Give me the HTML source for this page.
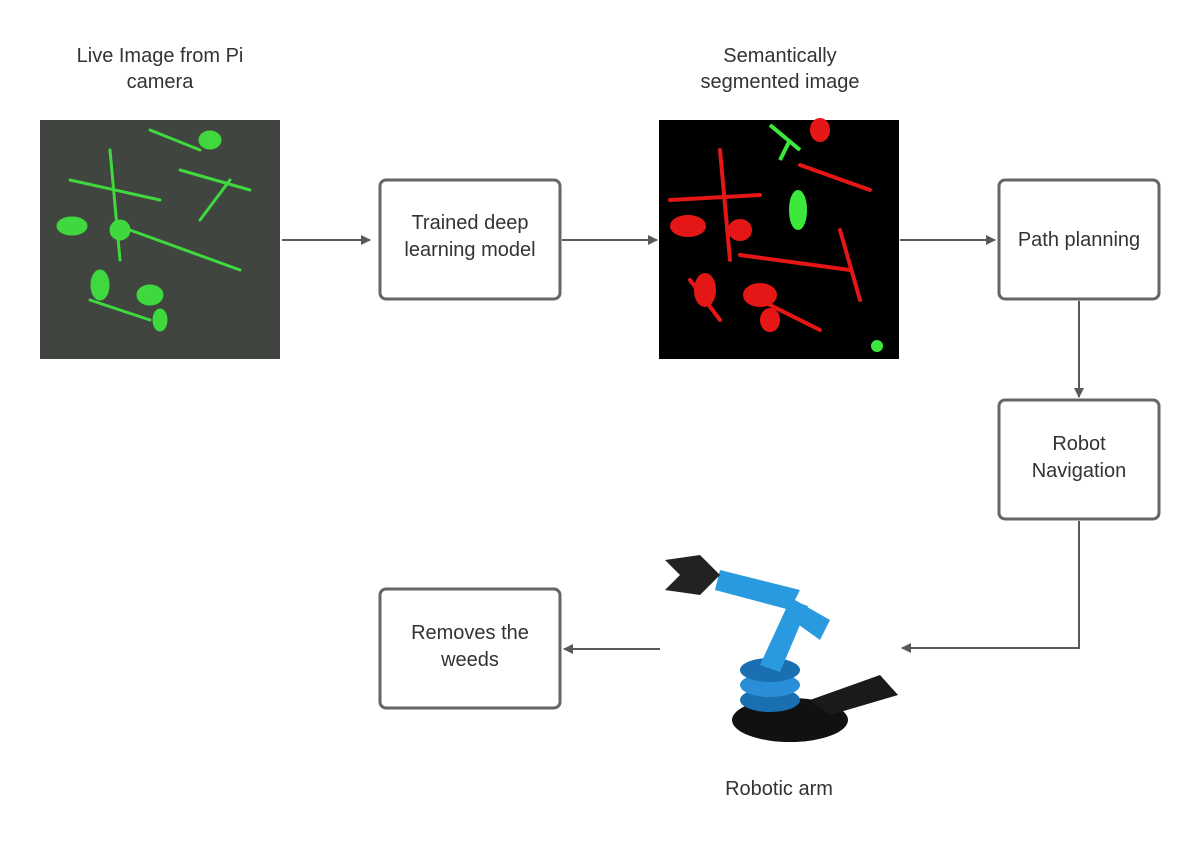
<!DOCTYPE html>
<html><head><meta charset="utf-8"><style>
html,body{margin:0;padding:0;background:#fff;width:1199px;height:860px;overflow:hidden}
svg text{font-family:"Liberation Sans",sans-serif;font-size:20px;fill:#333;text-anchor:middle}
</style></head><body>
<svg width="1199" height="860" viewBox="0 0 1199 860">
<defs><marker id="ah" markerWidth="10" markerHeight="10" refX="9" refY="5" orient="auto" markerUnits="userSpaceOnUse"><path d="M0,0 L10,5 L0,10 z" fill="#595959"/></marker></defs>

<g><text x="160" y="62">Live Image from Pi</text><text x="160" y="88">camera</text></g>
<g>
<rect x="40" y="120" width="240" height="239" fill="#3a3f3a"/>
<rect x="40" y="120" width="240" height="239" fill="#4a4f48" opacity="0.4"/>
<g fill="#3fd83f" stroke="#3fd83f" stroke-width="3" stroke-linecap="round">
<path d="M70,180 L160,200 M110,150 L120,260 M150,130 L200,150 M180,170 L250,190 M130,230 L240,270 M90,300 L150,320 M200,220 L230,180" fill="none"/>
<ellipse cx="72" cy="226" rx="14" ry="8"/><ellipse cx="100" cy="285" rx="8" ry="14"/><ellipse cx="150" cy="295" rx="12" ry="9"/>
<ellipse cx="160" cy="320" rx="6" ry="10"/><ellipse cx="210" cy="140" rx="10" ry="8"/><ellipse cx="120" cy="230" rx="9" ry="9"/>
</g></g>

<line x1="282" y1="240" x2="370" y2="240" stroke="#595959" stroke-width="2" marker-end="url(#ah)"/>
<g><rect x="380" y="180" width="180" height="119" rx="6" fill="#fff" stroke="#666" stroke-width="3"/><text x="470" y="229">Trained deep</text><text x="470" y="256">learning model</text></g>
<line x1="562" y1="240" x2="657" y2="240" stroke="#595959" stroke-width="2" marker-end="url(#ah)"/>

<g><text x="780" y="62">Semantically</text><text x="780" y="88">segmented image</text></g>
<g>
<rect x="659" y="120" width="240" height="239" fill="#000"/>
<g fill="#e41616" stroke="#e41616" stroke-width="4" stroke-linecap="round">
<path d="M670,200 L760,195 M720,150 L730,260 M800,165 L870,190 M740,255 L850,270 M690,280 L720,320 M760,300 L820,330 M840,230 L860,300" fill="none"/>
<ellipse cx="688" cy="226" rx="16" ry="9"/><ellipse cx="705" cy="290" rx="9" ry="15"/><ellipse cx="760" cy="295" rx="15" ry="10"/>
<ellipse cx="770" cy="320" rx="8" ry="10"/><ellipse cx="820" cy="130" rx="8" ry="10"/><ellipse cx="740" cy="230" rx="10" ry="9"/>
</g>
<g fill="#3be83b" stroke="#3be83b" stroke-width="4"><path d="M770,125 L800,150 M790,140 L780,160" fill="none"/><ellipse cx="798" cy="210" rx="7" ry="18"/><circle cx="877" cy="346" r="4"/></g>
</g>

<line x1="900" y1="240" x2="995" y2="240" stroke="#595959" stroke-width="2" marker-end="url(#ah)"/>
<g><rect x="999" y="180" width="160" height="119" rx="6" fill="#fff" stroke="#666" stroke-width="3"/><text x="1079" y="246">Path planning</text></g>
<line x1="1079" y1="301" x2="1079" y2="397" stroke="#595959" stroke-width="2" marker-end="url(#ah)"/>
<g><rect x="999" y="400" width="160" height="119" rx="6" fill="#fff" stroke="#666" stroke-width="3"/><text x="1079" y="450">Robot</text><text x="1079" y="477">Navigation</text></g>
<polyline points="1079,521 1079,648 902,648" fill="none" stroke="#595959" stroke-width="2" marker-end="url(#ah)"/>

<g>
<ellipse cx="790" cy="720" rx="58" ry="22" fill="#111"/>
<ellipse cx="770" cy="700" rx="30" ry="12" fill="#1a6fb0"/><ellipse cx="770" cy="685" rx="30" ry="12" fill="#2a8fd8"/><ellipse cx="770" cy="670" rx="30" ry="12" fill="#1a6fb0"/>
<polygon points="810,700 880,675 898,695 830,715" fill="#1a1a1a"/>
<polygon points="760,665 790,600 808,606 780,672" fill="#2a9ae0"/>
<polygon points="795,600 830,620 820,640 785,615" fill="#2a9ae0"/>
<polygon points="720,570 800,590 790,610 715,590" fill="#2a9ae0"/>
<path d="M665,560 L700,555 L720,575 L700,595 L665,590 L680,575 Z" fill="#222"/>
</g>
<text x="779" y="795">Robotic arm</text>

<line x1="660" y1="649" x2="564" y2="649" stroke="#595959" stroke-width="2" marker-end="url(#ah)"/>
<g><rect x="380" y="589" width="180" height="119" rx="6" fill="#fff" stroke="#666" stroke-width="3"/><text x="470" y="639">Removes the</text><text x="470" y="666">weeds</text></g>
</svg>
</body></html>
